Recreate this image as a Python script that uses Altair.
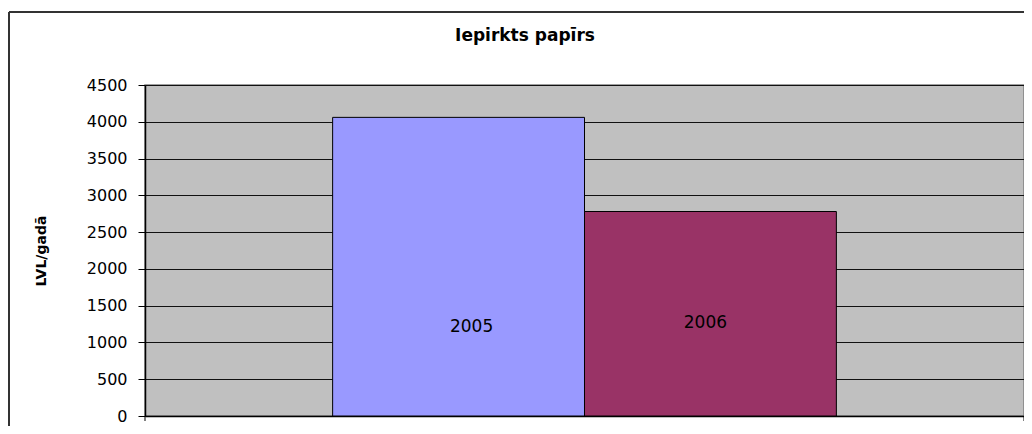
import altair as alt
import pandas as pd

series = ["2005", "2006"]
values = [4060, 2780]
label_values = [1210, 1265]
colors = ["#9999FF", "#993366"]
y_ticks = [0, 500, 1000, 1500, 2000, 2500, 3000, 3500, 4000, 4500]
title_text = "Iepirkts papīrs"
y_title = "LVL/gadā"

W, H = 879, 331

df = pd.DataFrame({"series": series, "value": values, "label_value": label_values})

xscale = alt.Scale(domain=series, paddingInner=0, paddingOuter=0.745)
yscale = alt.Scale(domain=[0, 4500], nice=False)

xaxis = alt.Axis(title=None, labels=False, ticks=False, domain=True,
                 domainColor="#000000", domainWidth=1.5, grid=False)
yaxis = alt.Axis(values=y_ticks, format="d", title=y_title, grid=True,
                 gridColor="#111111", gridWidth=1,
                 tickSize=7, tickColor="#000000", tickWidth=1,
                 domainColor="#000000", domainWidth=1.5,
                 labelPadding=11, labelFont="DejaVu Sans", labelFontSize=16,
                 labelColor="#000000",
                 titleFont="DejaVu Sans", titleFontSize=14, titleFontWeight="bold",
                 titleColor="#000000", titleAngle=270, titleAlign="center",
                 titleBaseline="middle", titleX=-104, titleY=H / 2)

base = alt.Chart(df)

bars = base.mark_bar(stroke="#000000", strokeWidth=1).encode(
    x=alt.X("series:N", scale=xscale, axis=xaxis),
    y=alt.Y("value:Q", scale=yscale, axis=yaxis),
    color=alt.Color("series:N", scale=alt.Scale(domain=series, range=colors), legend=None),
)

def label_layer(name, dx):
    return base.transform_filter(alt.datum.series == name).mark_text(
        font="DejaVu Sans", fontSize=17, color="#000000", dx=dx, baseline="middle"
    ).encode(
        x=alt.X("series:N", scale=xscale, axis=xaxis),
        y=alt.Y("label_value:Q", scale=yscale, axis=yaxis),
        text="series:N",
    )

labels05 = label_layer("2005", 13)
labels06 = label_layer("2006", -5)

one = alt.Chart(pd.DataFrame({"t": [title_text]}))
title_mark = one.mark_text(font="DejaVu Sans", fontSize=17, fontWeight="bold",
                           color="#000000", align="center", baseline="alphabetic").encode(
    x=alt.value(525 - 145), y=alt.value(41 - 85), text="t:N")
frame_top = one.mark_rule(color="#333333", strokeWidth=2).encode(
    x=alt.value(-136), x2=alt.value(W + 20), y=alt.value(-73))
frame_left = one.mark_rule(color="#333333", strokeWidth=2).encode(
    x=alt.value(-136), y=alt.value(-73), y2=alt.value(H + 40))
tick_l = one.mark_rule(color="#000000", strokeWidth=1).encode(
    x=alt.value(0), y=alt.value(H), y2=alt.value(H + 5))
tick_r = one.mark_rule(color="#000000", strokeWidth=1).encode(
    x=alt.value(W), y=alt.value(H), y2=alt.value(H + 5))

chart = alt.layer(bars, labels05, labels06, title_mark, frame_top, frame_left, tick_l, tick_r).properties(
    width=W, height=H,
    autosize=alt.AutoSizeParams(type="none"),
    padding={"left": 137, "top": 77, "right": 0, "bottom": 10},
    background="#FFFFFF",
).configure_view(
    fill="#C0C0C0", stroke="#808080", strokeWidth=1.5
)

chart.save("out.html", embed_options={"renderer": "svg", "actions": False})
